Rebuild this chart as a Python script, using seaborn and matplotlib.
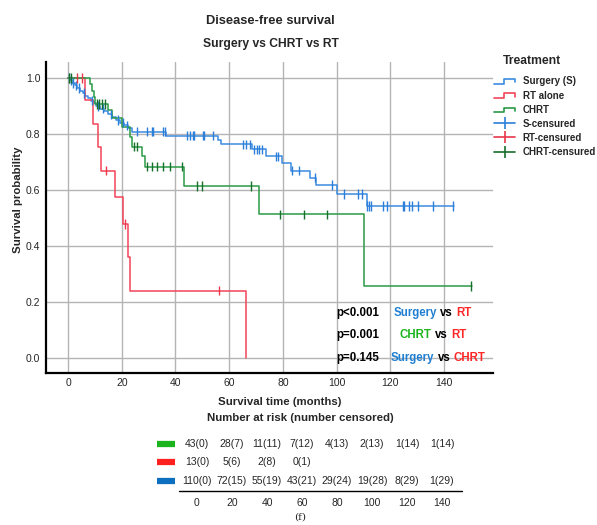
import numpy as np
import pandas as pd
import matplotlib
matplotlib.use("Agg")
import matplotlib.pyplot as plt
import seaborn as sns
from matplotlib.lines import Line2D
from matplotlib.legend_handler import HandlerBase

# Kaplan-Meier steps (time in months, survival after the drop)
s_event_t = [0.8, 1.6, 2.5, 3.5, 4.5, 5.5, 6.5, 7.5, 8.5, 9.5, 10.5, 12, 13.5, 15, 16.5, 18, 19.5, 21,
             22.5, 24, 36.5, 55.7, 57, 68.4, 73.7, 79.8, 83, 90.1, 92.2, 100, 111.2]
s_event_s = [0.991, 0.982, 0.973, 0.964, 0.955, 0.946, 0.937, 0.928, 0.919, 0.91, 0.9, 0.89, 0.88, 0.87,
             0.86, 0.85, 0.84, 0.83, 0.82, 0.808, 0.794, 0.778, 0.763, 0.745, 0.72, 0.695, 0.668, 0.643,
             0.617, 0.585, 0.542]
s_end = 143.5
s_cens_t = [0.3, 1.2, 2.0, 3.0, 4.0, 6.0, 9.0, 11.0, 13.0, 16.0, 18.5, 20.5, 22.0, 25.6, 29.3, 31.2, 31.8,
            35.5, 36.1, 44.4, 45.4, 46.4, 46.9, 50.1, 50.7, 54.1, 65.3, 66.2, 67.8, 69.3, 70.3, 71.2, 72.1,
            77.4, 78.3, 83.2, 86.1, 91.8, 98.2, 102.9, 108.1, 109.3, 111.4, 112.2, 112.8, 117.2, 118.9,
            124.6, 125.2, 127.1, 128.0, 130.2, 136.0, 143.2]

r_event_t = [6.2, 9.2, 11.3, 12.1, 17.3, 20.3, 22.2, 23.2, 66.2]
r_event_s = [0.92, 0.835, 0.752, 0.668, 0.573, 0.478, 0.358, 0.239, 0.0]
r_end = 66.2
r_cens_t = [3.2, 5.1, 14.1, 21.2, 56.2]

g_event_t = [8.0, 8.9, 9.6, 10.2, 15.0, 16.3, 20.0, 23.0, 23.7, 27.4, 28.7, 43.2, 71.1, 110.0]
g_event_s = [0.977, 0.953, 0.93, 0.907, 0.886, 0.856, 0.826, 0.79, 0.754, 0.722, 0.683, 0.614, 0.512, 0.256]
g_end = 150.5
g_cens_t = [0.4, 1.2, 10.6, 11.6, 12.6, 13.8, 24.4, 25.8, 29.3, 31.2, 33.3, 35.5, 38.0, 42.3, 48.1, 50.0,
            68.0, 79.0, 88.0, 96.3, 150.0]

# number at risk table
risk_times = [0, 20, 40, 60, 80, 100, 120, 140]
chrt_at_risk = [43, 28, 11, 7, 4, 2, 1, 1]
chrt_censored = [0, 7, 11, 12, 13, 13, 14, 14]
rt_at_risk = [13, 5, 2, 0]
rt_censored = [0, 6, 8, 1]
s_at_risk = [110, 72, 55, 43, 29, 19, 8, 1]
s_censored = [0, 15, 19, 21, 24, 28, 29, 29]

groups = ["Surgery (S)", "RT alone", "CHRT"]
line_pal = {"Surgery (S)": "#3a8be0", "RT alone": "#f2445a", "CHRT": "#2a9a45"}
cens_pal = {"Surgery (S)": "#2b7fd9", "RT alone": "#e8384a", "CHRT": "#16702c"}

W, H = 597, 525


def fxy(x, y):
    return x / W, 1 - y / H


def steps(name, et, es, end):
    t = [0.0] + list(et)
    s = [1.0] + list(es)
    if end > t[-1]:
        t.append(end)
        s.append(s[-1])
    return pd.DataFrame({"time": t, "surv": s, "group": name})


def censors(name, et, es, ct):
    vals = np.r_[1.0, es]
    idx = np.searchsorted(et, ct, side="right")
    return pd.DataFrame({"time": ct, "surv": vals[idx], "group": name})


curves = pd.concat([steps("Surgery (S)", s_event_t, s_event_s, s_end),
                    steps("RT alone", r_event_t, r_event_s, r_end),
                    steps("CHRT", g_event_t, g_event_s, g_end)], ignore_index=True)
cens = pd.concat([censors("Surgery (S)", s_event_t, s_event_s, s_cens_t),
                  censors("RT alone", r_event_t, r_event_s, r_cens_t),
                  censors("CHRT", g_event_t, g_event_s, g_cens_t)], ignore_index=True)

sns.set_style("white")
plt.rcParams["font.family"] = ["Liberation Sans", "DejaVu Sans"]

fig = plt.figure(figsize=(W / 100, H / 100), dpi=100)
ax = fig.add_axes([46 / W, 1 - 372.7 / H, 447 / W, 311 / H])

sns.lineplot(data=curves, x="time", y="surv", hue="group", hue_order=groups, palette=line_pal,
             drawstyle="steps-post", estimator=None, sort=False, linewidth=1.1, legend=False, ax=ax)
sns.scatterplot(data=cens, x="time", y="surv", hue="group", hue_order=groups, palette=cens_pal,
                marker="|", s=45, linewidth=1.0, legend=False, ax=ax, zorder=3)

ax.set_xlim(-8.2, 158.2)
ax.set_ylim(-0.054, 1.058)
ax.set_xticks(range(0, 141, 20))
ax.set_yticks(np.arange(0, 1.01, 0.2))
ax.set_yticklabels([f"{v:.1f}" for v in np.arange(0, 1.01, 0.2)])
ax.grid(True, color="#b4b4b4", linewidth=1.0)
ax.set_axisbelow(True)
for side in ["top", "right"]:
    ax.spines[side].set_visible(False)
for side in ["left", "bottom"]:
    ax.spines[side].set_linewidth(1.6)
    ax.spines[side].set_color("black")
ax.tick_params(length=0, pad=4, labelsize=7.5)
ax.set_xlabel("")
ax.set_ylabel("")
fig.text(*fxy(280, 401.7), "Survival time (months)", ha="center", va="center",
         fontsize=8.2, fontweight="bold")
fig.text(*fxy(18, 200), "Survival probability", ha="center", va="center", rotation=90,
         fontsize=8.2, fontweight="bold")

# titles
fig.text(*fxy(270, 20.5), "Disease-free survival", ha="center", va="center", fontsize=9.3, fontweight="bold")
fig.text(*fxy(271, 43.5), "Surgery vs CHRT vs RT", ha="center", va="center", fontsize=8.7, fontweight="bold")

# p-values
blue_t, red_t, green_t = "#1f7fd2", "#ff2626", "#1db41d"
p_rows = [
    (312.7, [("p<0.001", 336, "black"), ("Surgery", 394, blue_t), ("vs", 440, "black"), ("RT", 456.5, red_t)]),
    (335.0, [("p=0.001", 336, "black"), ("CHRT", 399.5, green_t), ("vs", 435, "black"), ("RT", 451.5, red_t)]),
    (357.7, [("p=0.145", 336, "black"), ("Surgery", 391, blue_t), ("vs", 438, "black"), ("CHRT", 454, red_t)]),
]
for y, parts in p_rows:
    for txt, x, col in parts:
        fig.text(*fxy(x, y), txt, ha="left", va="center", fontsize=8.3, fontweight="bold", color=col)


# legend
class StepHandler(HandlerBase):
    def create_artists(self, legend, orig_handle, xdescent, ydescent, width, height, fontsize, trans):
        x0, x1 = -xdescent, -xdescent + width
        ylo, yhi = -ydescent + 0.1 * height, -ydescent + 0.75 * height
        xm = x0 + 0.45 * width
        ln = Line2D([x0, xm, xm, x1, x1], [ylo, ylo, yhi, yhi, ylo + 0.2 * height],
                    color=orig_handle.get_color(), linewidth=1.2)
        ln.set_transform(trans)
        return [ln]


step_handles = [Line2D([], [], color=line_pal[g]) for g in groups]
cens_handles = [Line2D([], [], color=cens_pal[g], marker="|", markersize=9, markeredgewidth=1.2,
                       linewidth=1.2) for g in groups]
labels = groups + ["S-censured", "RT-censured", "CHRT-censured"]
hmap = {h: StepHandler() for h in step_handles}
fig.legend(step_handles + cens_handles, labels, handler_map=hmap, loc="upper left",
           bbox_to_anchor=fxy(494, 76.5), frameon=False, prop={"size": 7, "weight": "bold"},
           handlelength=2.2, handletextpad=0.75, labelspacing=0.42, borderaxespad=0, borderpad=0)
fig.text(*fxy(503, 61), "Treatment", ha="left", va="center", fontsize=8.7, fontweight="bold")

# number at risk table
tab = fig.add_axes([150 / W, 1 - 515 / H, 320 / W, 90 / H])
tab.set_xlim((150 - 197) / 1.75, (470 - 197) / 1.75)
tab.set_ylim(515, 425)
tab.axis("off")
fig.text(*fxy(300, 418.3), "Number at risk (number censored)", ha="center", va="center",
         fontsize=8.2, fontweight="bold")
table_rows = [(444, "#1cb41c", chrt_at_risk, chrt_censored),
              (461.7, "#ff2020", rt_at_risk, rt_censored),
              (480.7, "#0c6fc0", s_at_risk, s_censored)]
for y, col, n, c in table_rows:
    tab.plot([-22.9, -12.6], [y, y], color=col, linewidth=4.5, solid_capstyle="butt")
    for t, a, b in zip(risk_times, n, c):
        tab.text(t, y, f"{a}({b})", ha="center", va="center", fontsize=7.5)
tab.plot([(179 - 197) / 1.75, (462 - 197) / 1.75], [490.7, 490.7], color="black", linewidth=1.0)
for t in risk_times:
    tab.text(t, 503.3, str(t), ha="center", va="center", fontsize=7.5)
fig.text(*fxy(300, 517.5), "(f)", ha="center", va="center", fontsize=7.5, family="DejaVu Serif")

fig.savefig("out.png", dpi=100)
